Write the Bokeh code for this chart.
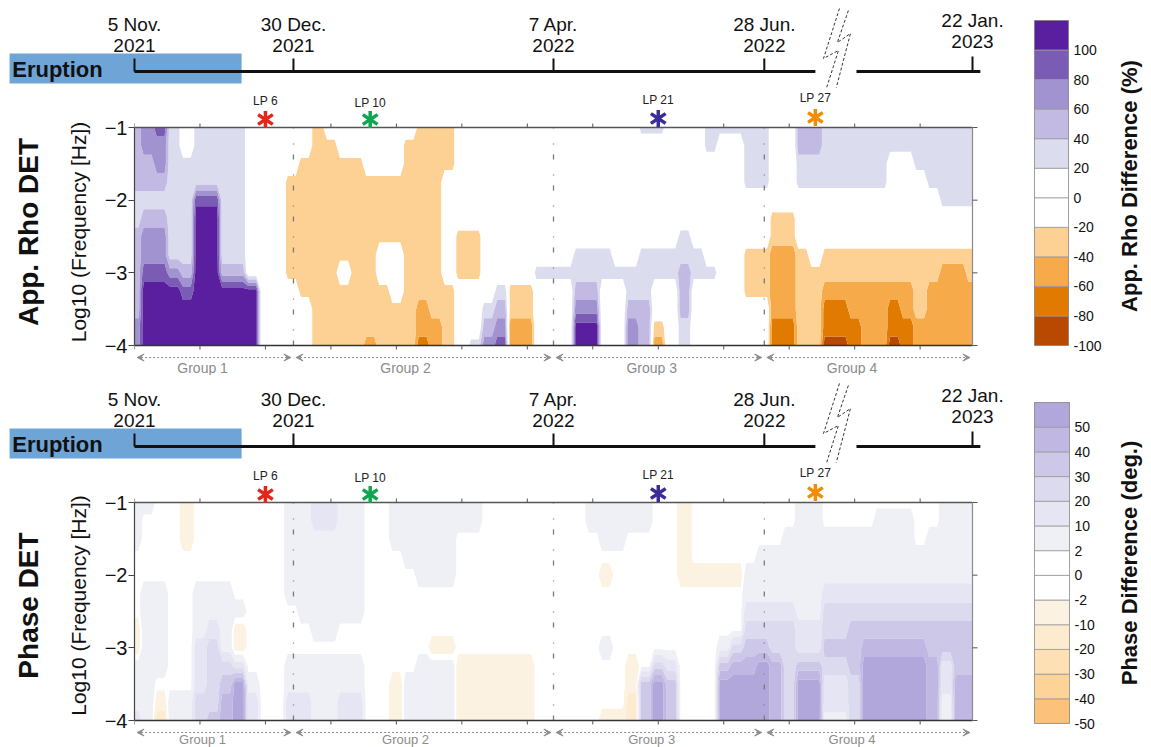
import numpy as np
from bokeh.plotting import figure
from bokeh.models import Range1d, LinearAxis, FixedTicker, Arrow, VeeHead
from bokeh.layouts import row, column
from bokeh.embed import file_html
from bokeh.resources import INLINE
from bokeh.core.properties import value

FONT = "Liberation Sans"

# ---------------------------------------------------------------- data
log_freq = [-1.0, -1.25, -1.5, -1.75, -2.0, -2.25, -2.5, -2.75, -3.0, -3.25, -3.5, -3.75, -4.0]
lp_grid = np.arange(1.0, 33.01, 0.5)          # LP positions of the columns below

rho_levels = [-100, -80, -60, -40, -20, 0, 20, 40, 60, 80, 100, 120]
rho_colors = ["#B94800", "#E07A00", "#F7AA4A", "#FDD193", "#FFFFFF", "#FFFFFF",
              "#DCDCEF", "#C3BAE4", "#A093CF", "#7B5CB5", "#5A1F9E"]
rho_ticklabels = ["-100", "-80", "-60", "-40", "-20", "0", "20", "40", "60", "80", "100"]
rho_code = {"D": 110, "9": 95, "8": 90, "6": 70, "4": 50, "2": 30, "0": 0,
            "a": -30, "b": -50, "c": -70, "d": -90}
# one string per LP column, read from -1 (top) to -4 (bottom)
rho_columns = [
    "4444224444466", "664424668DDDD", "866424668DDDD", "222222226DDDD", "0022222248DDD",
    "22229DDDDDDDD", "22229DDDDDDDD", "222222224DDDD", "222222224DDDD", "000000000DDDD",
    "0000000000000", "0000000000000", "000aaaaaa0000", "00aaaaaaaa000", "aaaaaaaaaaaaa",
    "0aaaaaaaaaaaa", "00aaaaaa0aaaa", "00aaaaaaaaaaa", "000aaaaaaaaab", "000aaaa00aaaa",
    "000aaaa000aaa", "0aaaaaaaaaaaa", "aaaaaaaaaabbc", "aaaaaaaaaaabb", "aaa000000aaaa",
    "000000aaa0000", "000000aaa0002", "0000000000246", "0000000002468", "000000000aabb",
    "000000000aabb", "0000000020000", "0000000020000", "0000000020000", "00000002246DD",
    "00000002246DD", "0000000220000", "0000000020000", "0000000022466", "2000000222444",
    "20000002200ab", "0000000220000", "0000002244422", "0000000220000", "2200000020000",
    "2000000000000", "2000000000000", "2222000aaa000", "2222000aaa000", "00000aabbbbcc",
    "00000aabbbbcc", "4422000aaaaaa", "44220000aaaaa", "2222000aabccd", "2222000aabccd",
    "2222000aabbcc", "2222000aabbbb", "2222000aabbbb", "2200000aabccd", "2200000aabbcc",
    "2220000aaaabb", "2222000aabbbb", "2222200abbbbb", "2222200abbbbb", "2222200aabbbb",
]

phase_levels = [-50, -40, -30, -20, -10, -2, 0, 2, 10, 20, 30, 40, 50, 60]
phase_colors = ["#FCC27A", "#FDD397", "#FDE0B4", "#FDEBD0", "#FCF2E2", "#FFFFFF", "#FFFFFF",
                "#EFEFF6", "#E6E5F3", "#DBDAEE", "#CDC8E8", "#C0B8E2", "#B1A7DA"]
phase_ticklabels = ["-50", "-40", "-30", "-20", "-10", "-2", "0", "2", "10", "20", "30", "40", "50"]
phase_code = {"6": 55, "5": 45, "4": 35, "3": 25, "2": 15, "1": 6, "0": 0, "y": -6, "z": -15}
phase_columns = [
    "1110000yy1112", "1000011111111", "00000111110yz", "0000000000011", "yyy0000000011",
    "0000011122233", "0000011233334", "0000011113455", "0000001yy2666", "0000000000122",
    "0000000000000", "0000000000000", "1111110001122", "1111111001122", "2211111101111",
    "2211111101111", "1111111001122", "1111111001122", "0000000000000", "0000000000000",
    "1110000000yyy", "1111000000111", "1111100001111", "11111000y1111", "11111000y1111",
    "110000000yyyy", "110000000yyyy", "000000000yyyy", "000000000yyyy", "000000000yyyy",
    "000000000yyyy", "0000000000000", "0000000000000", "0000000000000", "0000000000000",
    "1100000000000", "1110y0001000y", "111000000000y", "110000000yyzz", "1100000000444",
    "0000000003666", "0000000002444", "yyyyy00000000", "0000y00000000", "0000y00000000",
    "0000y00014666", "0000y00035666", "0000112345666", "0001112346666", "0001112335555",
    "0011112333333", "1111111224666", "1111111224666", "0011123343221", "0011123343221",
    "0011123444333", "0011123456666", "0111123456666", "0111123456666", "0111123456666",
    "0001123456666", "0011123445555", "1111123442211", "1111123444555", "1111123444555",
]

date_lp = [1.0, 7.07, 17.0, 25.05, 33.0]
date_day = ["5 Nov.", "30 Dec.", "7 Apr.", "28 Jun.", "22 Jan."]
date_year = ["2021", "2021", "2022", "2022", "2023"]
lp_event = [6, 10, 21, 27]
lp_event_name = ["LP 6", "LP 10", "LP 21", "LP 27"]
lp_event_color = ["#E3261C", "#0FA650", "#3B2D98", "#F28C05"]
group_edges = [1.0, 7.07, 17.0, 25.05, 33.0]
group_names = ["Group 1", "Group 2", "Group 3", "Group 4"]
group_label_lp = [3.6, 11.35, 20.75, 28.4]
xtick_lp = [1, 3.5, 6, 8.5, 11, 13.5, 16, 18.5, 21, 23.5, 26, 28.5, 31]
ytick_logf = [-4, -3, -2, -1]
eruption_lp = [-3.77, 5.09]
timeline_break_lp = [27.0, 28.57]
timeline_end_lp = 33.3
bolt_xs = [[27.92, 27.31, 27.88, 27.42], [28.26, 27.84, 28.34, 27.80]]
bolt_ys = [[119, 69, 77, 39], [117, 85, 94, 40]]

# ---------------------------------------------------------------- layout helpers
PX_PER_LP = 838.0 / 32.0      # horizontal pixels per LP step
PX_PER_DEC = 218.0 / 3.0      # vertical pixels per decade of frequency
MAIN_W = 1030
LEFT_PAD = 134
X0 = 1.0 - LEFT_PAD / PX_PER_LP
X1 = X0 + MAIN_W / PX_PER_LP
Y_ASC = np.array(log_freq[::-1])
GREY = "#8C8C8C"
# label placement (pixels above the frame top / above the timeline)
DATE_RAISE = [0, 0, 0, 0, 4]
LP_LABEL_PX = [27, 25, 28, 30]
LP_STAR_PX = [8, 8, 9, 10]


def decode(columns, codes):
    z = np.array([[codes[c] for c in col] for col in columns], dtype=float).T
    return z[::-1]


def strips(xc, z, eps=0.1):
    """Each LP column is shown as a flat strip half a step wide (nearest in LP)."""
    half = (xc[1] - xc[0]) / 2.0
    xs, idx = [], []
    for i, x in enumerate(xc):
        xs += [max(x - half + eps, xc[0]), min(x + half - eps, xc[-1])]
        idx += [i, i]
    return np.array(xs), z[:, idx]


def base_fig(**kw):
    f = figure(toolbar_location=None, output_backend="svg", x_axis_location=None,
               y_axis_location=None, **kw)
    f.frame_align = False
    f.grid.visible = False
    f.background_fill_color = "white"
    f.border_fill_color = "white"
    f.outline_line_color = None
    return f


def timeline_fig(height):
    t = base_fig(width=MAIN_W, height=height, x_range=Range1d(X0, X1),
                 y_range=Range1d(39, 39 + height), min_border_left=0, min_border_right=0,
                 min_border_top=0, min_border_bottom=0)
    t.quad(left=[eruption_lp[0]], right=[eruption_lp[1]], bottom=[44], top=[74],
           fill_color="#6FA4D6", line_color=None)
    t.text(x=[eruption_lp[0] + 0.1], y=[58], text=["Eruption"], text_font=value(FONT),
           text_font_size="22px", text_font_style="bold", text_align="left",
           text_baseline="middle", text_color="#111111")
    t.segment(x0=[date_lp[0], timeline_break_lp[1]], y0=[56, 56],
              x1=[timeline_break_lp[0], timeline_end_lp], y1=[56, 56],
              line_width=3, line_color="#111111")
    tick_top = [69 + r / 2 for r in DATE_RAISE]
    t.segment(x0=date_lp, y0=[56] * len(date_lp), x1=date_lp, y1=tick_top,
              line_width=2, line_color="#111111")
    t.text(x=date_lp, y=[103 + r for r in DATE_RAISE], text=date_day, text_font=value(FONT),
           text_font_size="19px", text_align="center", text_baseline="middle", text_color="#111111")
    t.text(x=date_lp, y=[82 + r for r in DATE_RAISE], text=date_year, text_font=value(FONT),
           text_font_size="19px", text_align="center", text_baseline="middle", text_color="#111111")
    t.multi_line(xs=bolt_xs, ys=bolt_ys, line_color="#333333", line_width=1, line_dash="3 2")
    return t


def label_axis(text, size, style, standoff, shift_px):
    d = shift_px / PX_PER_DEC
    return LinearAxis(ticker=FixedTicker(ticks=[]), bounds=(-4 - d, -1 - d), major_tick_out=0,
                      major_tick_in=0, minor_tick_out=0, minor_tick_in=0, major_label_standoff=0,
                      axis_line_color=None, axis_label=text, axis_label_text_font=FONT,
                      axis_label_text_font_size=size, axis_label_text_font_style=style,
                      axis_label_text_color="#111111", axis_label_standoff=standoff)


def main_fig(Z, levels, colors, title, height, below_px, arrow_px, label_px, label_size,
             ylab_shift, title_shift):
    y_top = -1 + 39 / PX_PER_DEC
    y_bot = -4 - below_px / PX_PER_DEC
    m = figure(width=MAIN_W, height=height, x_range=Range1d(1, X1), y_range=Range1d(y_bot, y_top),
               toolbar_location=None, output_backend="svg", x_axis_location=None,
               min_border_left=LEFT_PAD, min_border_right=0, min_border_top=0, min_border_bottom=0)
    m.frame_align = False
    m.background_fill_color = "white"
    m.border_fill_color = "white"
    m.outline_line_color = None
    m.grid.visible = False

    xs, zs = strips(lp_grid, Z)
    m.contour(x=xs, y=Y_ASC, z=zs, levels=levels, fill_color=colors, line_color=None)
    inner = group_edges[1:-1]
    m.segment(x0=inner, y0=[-4] * len(inner), x1=inner, y1=[-1] * len(inner),
              line_color="#7A7A7A", line_width=1.3, line_dash="5 10 1 15")

    # frame lines and their small outward ticks
    m.segment(x0=[1, 1], y0=[-1, -4], x1=[33, 33], y1=[-1, -4],
              line_color=["#555555", "#333333"], line_width=1.5)
    m.segment(x0=[33], y0=[-4], x1=[33], y1=[-1], line_color="#8A8A8A", line_width=1.2)
    tick_dy = 4 / PX_PER_DEC
    n = len(xtick_lp)
    m.segment(x0=xtick_lp, y0=[-1] * n, x1=xtick_lp, y1=[-1 + tick_dy] * n,
              line_color="#555555", line_width=1)
    m.segment(x0=xtick_lp, y0=[-4] * n, x1=xtick_lp, y1=[-4 - tick_dy] * n,
              line_color="#555555", line_width=1)
    k = len(ytick_logf)
    m.segment(x0=[33] * k, y0=ytick_logf, x1=[33 + 5 / PX_PER_LP] * k, y1=ytick_logf,
              line_color="#555555", line_width=1)

    # LP events above the frame
    m.text(x=lp_event, y=[-1 + p / PX_PER_DEC for p in LP_LABEL_PX], text=lp_event_name,
           text_font=value(FONT), text_font_size="12px", text_align="center",
           text_baseline="middle", text_color="#222222")
    for ang in (0.0, np.pi):
        m.scatter(x=lp_event, y=[-1 + p / PX_PER_DEC for p in LP_STAR_PX], marker="y", size=17,
                  angle=ang, line_color=lp_event_color, line_width=3.5)

    # groups below the frame
    ay = -4 - arrow_px / PX_PER_DEC
    for i in range(len(group_names)):
        m.add_layout(Arrow(x_start=group_edges[i] + 0.1, x_end=group_edges[i + 1] - 0.1,
                           y_start=ay, y_end=ay,
                           start=VeeHead(size=7, fill_color=GREY, line_color=GREY),
                           end=VeeHead(size=7, fill_color=GREY, line_color=GREY),
                           line_color=GREY, line_width=1.2, line_dash="2 2"))
    m.text(x=group_label_lp, y=[-4 - label_px / PX_PER_DEC] * len(group_names), text=group_names,
           text_font=value(FONT), text_font_size=label_size, text_align="center",
           text_baseline="middle", text_color=GREY)

    ya = m.yaxis[0]
    ya.ticker = FixedTicker(ticks=ytick_logf)
    ya.bounds = (-4, -1)
    ya.major_tick_out = 6
    ya.major_tick_in = 0
    ya.minor_tick_out = 0
    ya.minor_tick_in = 0
    ya.major_label_standoff = 1
    ya.major_label_text_font = FONT
    ya.major_label_text_font_size = "20px"
    ya.major_label_text_color = "#111111"
    ya.axis_line_color = "#444444"
    ya.axis_line_width = 1.2
    ya.major_tick_line_color = "#444444"

    m.add_layout(label_axis("Log10 (Frequency [Hz])", "21px", "normal", 12, ylab_shift), "left")
    m.add_layout(label_axis(title, "28px", "bold", 20, title_shift), "left")
    return m


def colorbar_figs(height, top, bottom, colors, labels, title, title_bounds):
    nb = len(colors)
    cb = base_fig(width=74, height=height, x_range=Range1d(0, 1), y_range=Range1d(0, nb),
                  min_border_left=4, min_border_right=35, min_border_top=top,
                  min_border_bottom=bottom)
    cb.outline_line_color = "#8A8A8A"
    idx = list(range(nb))
    cb.quad(left=[0] * nb, right=[1] * nb, bottom=idx, top=[i + 1 for i in idx],
            fill_color=colors, line_color="#9A9A9A", line_width=0.8)
    ax = LinearAxis(ticker=FixedTicker(ticks=list(range(len(labels)))),
                    major_label_overrides={i: lab for i, lab in enumerate(labels)},
                    major_tick_out=0, major_tick_in=0, minor_tick_out=0, minor_tick_in=0,
                    axis_line_color=None, major_label_standoff=5,
                    major_label_text_font=FONT, major_label_text_font_size="14px",
                    major_label_text_color="#111111")
    cb.add_layout(ax, "right")

    ct = base_fig(width=39, height=height, x_range=Range1d(0, 1), y_range=Range1d(0, nb),
                  min_border_left=38, min_border_right=0, min_border_top=top,
                  min_border_bottom=bottom)
    ct.scatter(x=[0.5], y=[0.5], alpha=0)
    tx = LinearAxis(ticker=FixedTicker(ticks=[]), bounds=title_bounds, major_tick_out=0,
                    major_tick_in=0, minor_tick_out=0, minor_tick_in=0, major_label_standoff=0,
                    axis_line_color=None, axis_label=title, axis_label_text_font=FONT,
                    axis_label_text_font_size="22px", axis_label_text_font_style="bold",
                    axis_label_text_color="#111111", axis_label_standoff=1)
    ct.add_layout(tx, "left")
    return cb, ct


# ---------------------------------------------------------------- panels
Z_rho = decode(rho_columns, rho_code)
Z_phase = decode(phase_columns, phase_code)

t1 = timeline_fig(88)
m1 = main_fig(Z_rho, rho_levels, rho_colors, "App. Rho DET", 287, 30, 12, 22, "14px", -6, 7)
cb1, ct1 = colorbar_figs(375, 20, 30, rho_colors, rho_ticklabels,
                         "App. Rho Difference  (%)", (0, 10.7))

t2 = timeline_fig(88)
m2 = main_fig(Z_phase, phase_levels, phase_colors, "Phase DET", 284, 27, 12, 19, "13px", -3, -2)
cb2, ct2 = colorbar_figs(372, 27, 24, phase_colors, phase_ticklabels,
                         "Phase Difference (deg.)", (0.4, 12))

layout = column(row(column(t1, m1), cb1, ct1),
                row(column(t2, m2), cb2, ct2))

with open("out.html", "w") as f:
    f.write(file_html(layout, INLINE))
